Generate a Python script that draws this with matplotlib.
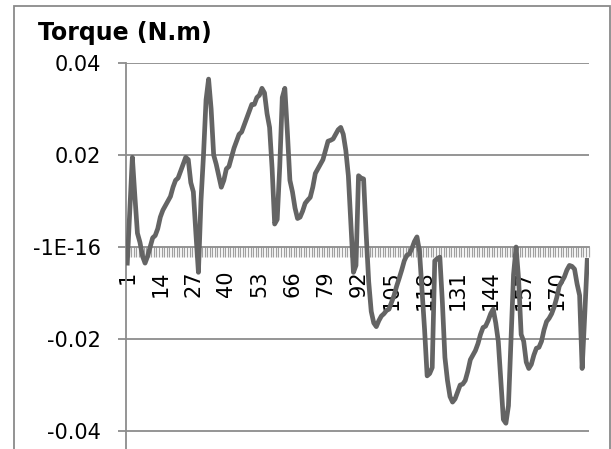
import matplotlib.pyplot as plt
from matplotlib.patches import Rectangle

# torque samples (182 points)
torque = [
    -0.0035, 0.008, 0.0195, 0.011, 0.003, 0.001, -0.002, -0.0035, -0.002, 0.000,
    0.002, 0.0025, 0.004, 0.0065, 0.008, 0.009, 0.010, 0.011, 0.013, 0.0145,
    0.015, 0.0165, 0.018, 0.0195, 0.019, 0.014, 0.012, 0.003, -0.0055, 0.010,
    0.020, 0.032, 0.0365, 0.030, 0.020, 0.018, 0.0155, 0.013, 0.0145, 0.017,
    0.0175, 0.0195, 0.0215, 0.023, 0.0245, 0.025, 0.0265, 0.028, 0.0295, 0.031,
    0.031, 0.0325, 0.033, 0.0345, 0.0335, 0.029, 0.026, 0.017, 0.005, 0.006,
    0.0175, 0.0325, 0.0345, 0.025, 0.0145, 0.012, 0.0085, 0.0062, 0.0065, 0.0078,
    0.0095, 0.0102, 0.0108, 0.013, 0.016, 0.017, 0.018, 0.019, 0.021, 0.023,
    0.0232, 0.0235, 0.0245, 0.0255, 0.026, 0.0245, 0.021, 0.0155, 0.005, -0.0055,
    -0.004, 0.0155, 0.015, 0.0148, 0.003, -0.0075, -0.014, -0.0165, -0.0173, -0.016,
    -0.015, -0.0145, -0.0138, -0.0135, -0.012, -0.0105, -0.0085, -0.0068, -0.005, -0.003,
    -0.0018, -0.0015, -0.0003, 0.0012, 0.0022, -0.001, -0.0095, -0.018, -0.028, -0.0275,
    -0.0262, -0.003, -0.0025, -0.0022, -0.012, -0.024, -0.029, -0.0325, -0.0337, -0.033,
    -0.0315, -0.030, -0.0298, -0.029, -0.027, -0.0245, -0.0235, -0.0225, -0.021, -0.019,
    -0.0175, -0.0172, -0.016, -0.0145, -0.0135, -0.0165, -0.0205, -0.029, -0.0375, -0.0383,
    -0.0345, -0.020, -0.006, 0.000, -0.007, -0.019, -0.0205, -0.025, -0.0264, -0.0255,
    -0.0235, -0.022, -0.0218, -0.0205, -0.018, -0.0162, -0.0155, -0.0145, -0.013, -0.011,
    -0.0085, -0.0075, -0.0065, -0.005, -0.004, -0.0042, -0.0048, -0.008, -0.0105, -0.0264,
    -0.015, -0.0029,
]
samples = list(range(1, len(torque) + 1))
x_labels = list(range(1, len(torque) + 1, 13))
y_ticks = [0.04, 0.02, 0.0, -0.02, -0.04]
y_labels = ['0.04', '0.02', '-1E-16', '-0.02', '-0.04']

plt.rcParams['font.family'] = ['DejaVu Sans']
grid_gray = '#8c8c8c'

fig = plt.figure(figsize=(6.11, 4.49), dpi=100)
W, H = 611, 449
ax = fig.add_axes([126 / W, 0, (588.5 - 126) / W, 1 - 63 / H])

ax.plot(samples, torque, color='#646464', lw=3.4, zorder=3, solid_joinstyle='round')

ax.set_xlim(0.5, len(torque) + 0.5)
ax.set_ylim(-0.0439, 0.04)

for v in y_ticks:
    if v != 0:
        ax.axhline(v, color=grid_gray, lw=1.3, zorder=1)

ax.tick_params(axis='y', direction='out', length=6, width=1.3, color=grid_gray,
               pad=12, labelsize=15)
ax.tick_params(axis='x', which='major', length=0, pad=17, labelsize=15, labelrotation=90)
ax.tick_params(axis='x', which='minor', direction='out', length=7, width=0.9, color='#a0a0a0')

ax.set_yticks(y_ticks)
ax.set_yticklabels(y_labels)
ax.set_xticks(x_labels)
ax.set_xticklabels([str(v) for v in x_labels])
ax.set_xticks([i + 0.5 for i in range(0, len(torque) + 1)], minor=True)

ax.spines['bottom'].set_position(('data', 0))
ax.spines['bottom'].set_color(grid_gray)
ax.spines['bottom'].set_linewidth(1.3)
ax.spines['left'].set_color(grid_gray)
ax.spines['left'].set_linewidth(1.3)
ax.spines['top'].set_visible(False)
ax.spines['right'].set_visible(False)

fig.text(38 / W, 1 - 33 / H, 'Torque (N.m)', fontsize=17, fontweight='bold', va='center', ha='left')

fig.patches.append(Rectangle((14 / W, -0.1), (610 - 14) / W, 1.1 - 6 / H, transform=fig.transFigure,
                             fill=False, edgecolor='#8a8a8a', lw=1.3))

fig.savefig('out.png', dpi=100)
